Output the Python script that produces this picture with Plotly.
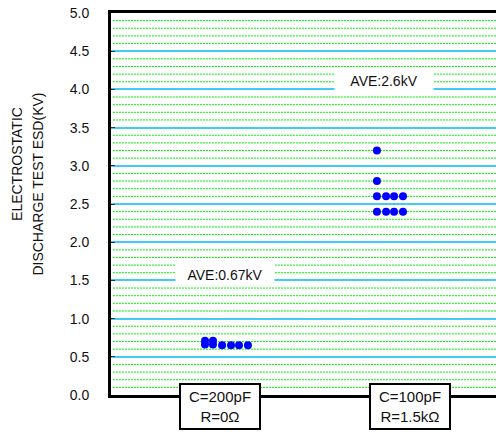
import plotly.graph_objects as go

# ---- data ----
categories = ["C=200pF<br>R=0Ω", "C=100pF<br>R=1.5kΩ"]
category_pos = [1, 2]
cond1_x = [0.921, 0.921, 0.963, 0.963, 1.011, 1.058, 1.100, 1.147]
cond1_y = [0.71, 0.66, 0.71, 0.66, 0.65, 0.65, 0.65, 0.65]
cond2_x = [1.826, 1.826, 1.826, 1.874, 1.916, 1.963, 1.826, 1.874, 1.916, 1.963]
cond2_y = [3.2, 2.8, 2.6, 2.6, 2.6, 2.6, 2.4, 2.4, 2.4, 2.4]
ave_labels = ["AVE:0.67kV", "AVE:2.6kV"]
ytick_vals = [0.0, 0.5, 1.0, 1.5, 2.0, 2.5, 3.0, 3.5, 4.0, 4.5, 5.0]
ytick_text = ["0.0", "0.5", "1.0", "1.5", "2.0", "2.5", "3.0", "3.5", "4.0", "4.5", "5.0"]
minor_vals = [round(i * 0.1, 1) for i in range(1, 50) if i % 5 != 0]

FONT = "Liberation Sans, Arial, sans-serif"

fig = go.Figure()
fig.add_trace(go.Scatter(x=cond1_x, y=cond1_y, mode="markers",
                         marker=dict(color="#0000ff", size=8), showlegend=False,
                         hoverinfo="skip"))
fig.add_trace(go.Scatter(x=cond2_x, y=cond2_y, mode="markers",
                         marker=dict(color="#0000ff", size=8), showlegend=False,
                         hoverinfo="skip"))

annotations = []
for pos, lab in zip(category_pos, categories):
    annotations.append(dict(x=pos, xref="x", y=-0.031, yref="paper", text=lab,
                            showarrow=False, xanchor="center", yanchor="middle",
                            font=dict(family=FONT, size=15, color="#111"),
                            bgcolor="white", bordercolor="black", borderwidth=2,
                            borderpad=3, width=72))
annotations.append(dict(x=1.027, y=1.57, xref="x", yref="y", text=ave_labels[0],
                        showarrow=False, font=dict(family=FONT, size=14, color="#111"),
                        bgcolor="white", borderpad=3, width=92))
annotations.append(dict(x=1.863, y=4.11, xref="x", yref="y", text=ave_labels[1],
                        showarrow=False, font=dict(family=FONT, size=14, color="#111"),
                        bgcolor="white", borderpad=3, width=92))
annotations.append(dict(x=-0.244, xref="paper", y=0.605, yref="paper", text="ELECTROSTATIC",
                        textangle=-90, showarrow=False, xanchor="center", yanchor="middle",
                        font=dict(family=FONT, size=14, color="#111")))
annotations.append(dict(x=-0.19, xref="paper", y=0.553, yref="paper",
                        text="DISCHARGE TEST ESD(KV)",
                        textangle=-90, showarrow=False, xanchor="center", yanchor="middle",
                        font=dict(family=FONT, size=14, color="#111")))

# dotted green fine grid lines at each 0.1 step (axis-referenced shapes)
shapes = []
for v in minor_vals:
    shapes.append(dict(type="line", xref="paper", x0=0.005, x1=1, yref="y", y0=v, y1=v,
                       line=dict(color="#00ee00", width=1, dash="2px,1px"), layer="below"))

fig.update_layout(
    width=496, height=432,
    margin=dict(l=111, r=0, t=13, b=37),
    paper_bgcolor="white", plot_bgcolor="white",
    annotations=annotations,
    shapes=shapes,
    hovermode=False,
    xaxis=dict(range=[0.4263, 2.4526], showgrid=False, zeroline=False,
               showticklabels=False, ticks="", showline=True, mirror=True,
               linecolor="black", linewidth=3, fixedrange=True),
    yaxis=dict(range=[0, 5], tickvals=ytick_vals, ticktext=ytick_text,
               showgrid=True, gridcolor="#40ccf6", gridwidth=1.5,
               zeroline=False, showline=True, linecolor="black", linewidth=3,
               ticks="inside", ticklen=4, tickcolor="#333", tickwidth=1,
               ticklabelstandoff=16,
               tickfont=dict(family=FONT, size=14, color="#111"),
               fixedrange=True),
)

fig.write_html("out.html", config={"displayModeBar": False},
               post_script="document.body.style.margin='0';document.body.style.overflow='hidden';")
